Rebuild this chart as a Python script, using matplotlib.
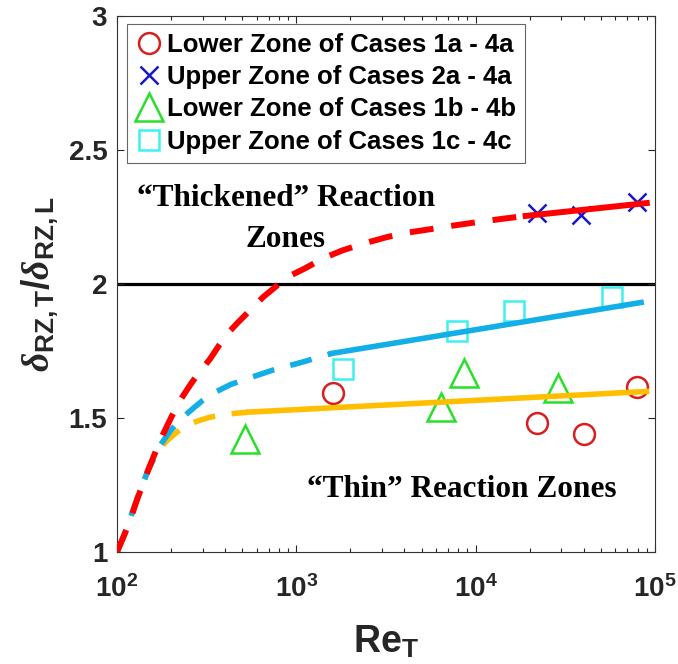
import numpy as np
import matplotlib
matplotlib.use('Agg')
import matplotlib.pyplot as plt

plt.rcParams['font.family'] = 'Liberation Sans'
plt.rcParams['font.weight'] = 'bold'
plt.rcParams['mathtext.fontset'] = 'custom'
plt.rcParams['mathtext.rm'] = 'Liberation Sans:bold'
plt.rcParams['mathtext.bf'] = 'Liberation Sans:bold'
plt.rcParams['mathtext.it'] = 'Liberation Serif:italic'

# measured points (Re_T, delta ratio)
re_lower_a = [1600, 22000, 40000, 79000]
dr_lower_a = [1.593, 1.483, 1.44, 1.615]
re_upper_a = [22000, 38500, 79500]
dr_upper_a = [2.265, 2.258, 2.307]
re_lower_b = [520, 6400, 8600, 28800]
dr_lower_b = [1.42, 1.54, 1.667, 1.612]
re_upper_c = [1815, 7850, 16300, 57300]
dr_upper_c = [1.684, 1.823, 1.898, 1.953]

# fitted curves
red_dash_re = [100, 110, 120, 130, 140, 150, 162, 175, 190, 205, 222, 240, 260, 280, 300, 330, 370,
               420, 470, 530, 650, 800, 950, 1130, 1400, 1800, 2400, 3200, 4200, 5650, 7500, 10000, 14000, 19000]
red_dash = [1.0, 1.065, 1.13, 1.20, 1.255, 1.31, 1.365, 1.42, 1.47, 1.515, 1.56, 1.595, 1.63, 1.66, 1.685, 1.72, 1.77,
            1.82, 1.855, 1.89, 1.95, 2.0, 2.035, 2.06, 2.095, 2.125, 2.152, 2.175, 2.192, 2.205, 2.218, 2.23, 2.243, 2.254]
red_solid_re = [19000, 90000]
red_solid = [2.254, 2.302]

cyan_dash_re = [100, 110, 122, 135, 148, 162, 175, 188, 200, 220, 240, 270, 300, 350, 430, 550, 750, 1100, 1575]
cyan_dash = [1.0, 1.065, 1.15, 1.23, 1.30, 1.355, 1.40, 1.43, 1.455, 1.485, 1.51, 1.54, 1.565, 1.595, 1.625, 1.65, 1.68, 1.71, 1.741]
cyan_solid_re = [1575, 83600]
cyan_solid = [1.741, 1.931]

yel_dash_re = [100, 110, 122, 135, 148, 162, 175, 190, 206, 225, 249, 285, 330, 420, 543]
yel_dash = [1.0, 1.065, 1.15, 1.23, 1.30, 1.355, 1.39, 1.415, 1.436, 1.457, 1.475, 1.49, 1.503, 1.515, 1.522]
yel_solid_re = [543, 89800]
yel_solid = [1.522, 1.599]

xticks = [1e2, 1e3, 1e4, 1e5]
xticklabels = [r'$\mathbf{10^{2}}$', r'$\mathbf{10^{3}}$', r'$\mathbf{10^{4}}$', r'$\mathbf{10^{5}}$']
yticks = [1, 1.5, 2, 2.5, 3]
yticklabels = ['1', '1.5', '2', '2.5', '3']

legend_labels = ['Lower Zone of Cases 1a - 4a', 'Upper Zone of Cases 2a - 4a',
                 'Lower Zone of Cases 1b - 4b', 'Upper Zone of Cases 1c - 4c']

red = '#ff0000'
cyan = '#12aee8'
yellow = '#ffbe00'

fig = plt.figure(figsize=(6.78, 6.64), dpi=100)
ax = fig.add_axes([117/678, 1-552/664, 538/678, 536/664])

ax.axhline(2, color='k', lw=2.3, zorder=1)

h1, = ax.plot(re_lower_a, dr_lower_a, 'o', ms=15, mfc='none', mec='#d81e1e', mew=1.8, zorder=2)
h2, = ax.plot(re_upper_a, dr_upper_a, 'x', ms=13, mec='#1818c8', mew=1.8, zorder=2)
h3, = ax.plot(re_lower_b, dr_lower_b, '^', ms=20, mfc='none', mec='#28e028', mew=1.8, zorder=2)
h4, = ax.plot(re_upper_c, dr_upper_c, 's', ms=14, mfc='none', mec='#3ef0f0', mew=1.8, zorder=2)

# fits: dashed extrapolation + solid over the data range
ax.plot(yel_dash_re, yel_dash, color=yellow, lw=4, dashes=(4, 3), zorder=3)
ax.plot(yel_solid_re, yel_solid, color=yellow, lw=4, zorder=3)
ax.plot(cyan_dash_re, cyan_dash, color=cyan, lw=4, dashes=(4, 3), zorder=4)
ax.plot(cyan_solid_re, cyan_solid, color=cyan, lw=4, zorder=4)
ax.plot(red_dash_re, red_dash, color=red, lw=4.3, dashes=(4, 3), zorder=5)
ax.plot(red_solid_re, red_solid, color=red, lw=4.3, zorder=5)

ax.set_xscale('log')
ax.set_xlim(1e2, 1e5)
ax.set_ylim(1, 3)
ax.set_xticks(xticks)
ax.set_xticklabels(xticklabels)
ax.set_yticks(yticks)
ax.set_yticklabels(yticklabels)
ax.tick_params(which='both', direction='in', top=True, right=True, colors='#262626', width=0.8)
ax.tick_params(which='major', length=5, labelsize=20)
ax.tick_params(which='minor', length=3)
ax.tick_params(axis='x', which='major', pad=17)
ax.tick_params(axis='y', which='major', pad=7)
for sp in ax.spines.values():
    sp.set_color('#333333')
    sp.set_linewidth(0.8)

ax.set_xlabel(r'$\mathbf{Re}_{\mathbf{T}}$', fontsize=27, color='#262626')
ax.xaxis.set_label_coords(0.5, -0.135)
ax.set_ylabel(r'$\delta_{\mathbf{RZ,T}}\mathbf{/}\delta_{\mathbf{RZ,L}}$', fontsize=27, color='#262626')
ax.yaxis.set_label_coords(-0.105, 0.5)

ax.text(0.314, 0.622, '\u201cThickened\u201d Reaction\nZones', transform=ax.transAxes,
        ha='center', va='center', multialignment='center', fontsize=22.5,
        family='Liberation Serif', weight='bold', linespacing=1.55)
ax.text(0.641, 0.116, '\u201cThin\u201d Reaction Zones', transform=ax.transAxes,
        ha='center', va='center', fontsize=22.5, family='Liberation Serif', weight='bold')

leg = ax.legend([h1, h2, h3, h4], legend_labels, loc='upper left',
                bbox_to_anchor=(0.0186, 0.985), borderaxespad=0, fontsize=18.5,
                handlelength=1.0, handletextpad=0.2, labelspacing=0.32,
                borderpad=0.35, fancybox=False, framealpha=1)
leg.get_frame().set_edgecolor('#666666')
leg.get_frame().set_linewidth(0.8)

fig.savefig('out.png', dpi=100)
